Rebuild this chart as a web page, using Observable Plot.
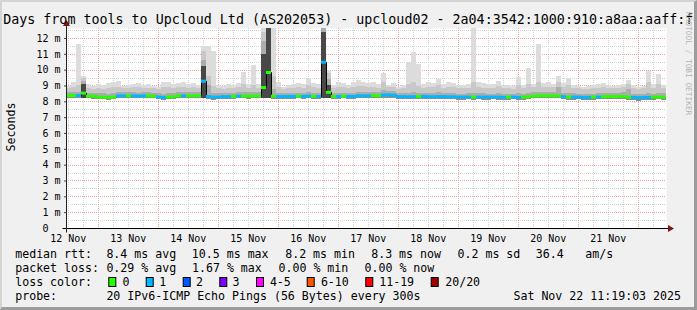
<!DOCTYPE html>
<html><head><meta charset="utf-8">
<script src="https://cdn.jsdelivr.net/npm/d3@7"></script>
<script src="https://cdn.jsdelivr.net/npm/@observablehq/plot@0.6"></script>
<style>
html,body{margin:0;padding:0;background:#fff;}
#wrap{position:relative;width:697px;height:310px;background:#f0f0f0;overflow:hidden;}
#wrap svg{position:absolute;left:0;top:0;}
#shade{position:absolute;left:0;top:0;width:697px;height:310px;box-sizing:border-box;border-top:2px solid #d4d4d4;border-left:2px solid #d4d4d4;border-right:3px solid #9c9c9c;border-bottom:3px solid #9c9c9c;pointer-events:none;}
</style></head>
<body><div id="wrap"></div>
<script>
// ---- data (ms), one value per 2-hour step, 120 steps over 10 days ----
const med = [
 8.40,8.40,8.40,8.55,8.36,8.36,8.30,8.30,8.28,8.30,
 8.38,8.38,8.38,8.38,8.36,8.38,8.38,8.36,8.30,8.28,
 8.30,8.32,8.38,8.38,8.38,8.38,8.40,9.30,8.33,8.30,
 8.30,8.33,8.33,8.34,8.36,8.36,8.36,8.36,8.38,8.90,
 9.85,8.36,8.34,8.34,8.34,8.34,8.36,8.34,8.36,8.34,
 8.34,10.50,8.60,8.34,8.34,8.36,8.34,8.34,8.38,8.38,
 8.38,8.40,8.38,8.44,8.44,8.42,8.33,8.33,8.32,8.33,
 8.33,8.34,8.33,8.32,8.33,8.33,8.32,8.32,8.30,8.30,
 8.30,8.30,8.30,8.30,8.30,8.30,8.30,8.28,8.30,8.30,
 8.28,8.30,8.32,8.36,8.38,8.38,8.38,8.38,8.38,8.32,
 8.30,8.30,8.30,8.28,8.28,8.30,8.30,8.33,8.34,8.33,
 8.34,8.34,8.30,8.28,8.26,8.28,8.28,8.30,8.30,8.30];
const loss = [
 0,0,1,0,0,0,0,0,0,0,
 1,1,0,1,1,1,0,0,1,1,
 0,0,0,1,0,0,0,1,1,1,
 1,1,1,0,1,0,0,0,0,0,
 0,0,1,1,1,1,0,1,1,0,
 1,1,0,0,1,0,1,1,1,1,
 1,0,0,1,1,1,1,1,1,1,
 0,1,1,1,1,1,1,1,1,1,
 1,0,1,1,1,1,1,1,0,1,
 1,0,0,0,0,0,0,0,0,1,
 0,1,1,1,1,0,1,0,0,0,
 0,0,0,1,1,1,1,0,0,0];
const lo = [
 8.22,8.22,8.20,8.22,8.18,8.16,8.12,8.12,8.10,8.12,
 8.18,8.20,8.20,8.18,8.18,8.20,8.18,8.18,8.12,8.10,
 8.12,8.14,8.20,8.18,8.20,8.20,8.22,8.20,8.14,8.10,
 8.12,8.14,8.14,8.16,8.18,8.18,8.16,8.18,8.20,8.20,
 8.22,8.16,8.16,8.14,8.16,8.16,8.18,8.16,8.18,8.16,
 8.16,8.20,8.18,8.16,8.16,8.18,8.16,8.14,8.20,8.20,
 8.18,8.22,8.20,8.24,8.24,8.22,8.14,8.14,8.12,8.14,
 8.14,8.16,8.14,8.12,8.14,8.14,8.12,8.12,8.10,8.10,
 8.12,8.10,8.12,8.10,8.10,8.12,8.10,8.08,8.10,8.12,
 8.08,8.10,8.14,8.18,8.20,8.18,8.20,8.20,8.18,8.12,
 8.10,8.10,8.12,8.08,8.08,8.10,8.12,8.14,8.16,8.14,
 8.16,8.14,8.10,8.08,8.04,8.08,8.10,8.10,8.12,8.10];
const dk = [
 8.56,8.58,8.60,9.30,8.54,8.52,8.50,8.50,8.48,8.52,
 8.56,8.56,8.58,8.56,8.54,8.56,8.56,8.54,8.50,8.48,
 8.50,8.52,8.56,8.56,8.58,8.56,8.60,10.60,9.00,8.52,
 8.50,8.52,8.52,8.54,8.56,8.58,8.56,8.58,8.58,11.80,
 12.70,8.80,8.54,8.52,8.52,8.54,8.54,8.52,8.56,8.52,
 8.54,12.70,9.40,8.52,8.54,8.54,8.52,8.54,8.58,8.60,
 8.56,8.60,8.56,8.70,8.64,8.62,8.52,8.52,8.54,8.56,
 8.52,8.54,8.52,8.50,8.58,8.52,8.50,8.52,8.48,8.48,
 8.50,8.54,8.50,8.50,8.48,8.48,8.52,8.46,8.48,8.48,
 8.52,8.48,8.54,8.56,8.58,8.58,8.56,8.58,8.90,8.52,
 8.54,8.50,8.48,8.46,8.46,8.48,8.50,8.52,8.54,8.52,
 8.54,8.56,8.80,8.46,8.44,8.46,8.52,8.48,8.50,8.50];
const md = [
 8.84,8.90,9.00,9.45,8.84,8.80,8.82,8.80,8.84,8.88,
 8.92,8.84,8.86,8.88,8.90,8.84,8.86,8.82,8.78,8.92,
 8.90,8.84,8.90,8.92,8.86,8.88,8.84,11.20,9.60,8.96,
 8.84,8.80,8.84,8.82,8.88,9.10,8.86,9.00,8.86,12.40,
 12.70,9.60,8.92,8.80,8.84,8.86,8.88,8.84,9.00,8.88,
 8.86,12.70,9.80,8.84,8.92,8.88,8.84,8.90,8.98,8.94,
 8.88,8.92,8.86,9.20,8.90,8.88,8.80,8.84,9.10,9.20,
 8.96,8.86,8.92,8.88,9.00,8.86,8.90,8.88,8.84,8.82,
 8.84,9.20,8.90,8.86,8.84,8.84,8.94,8.82,8.82,8.80,
 9.00,8.82,9.10,8.88,9.20,8.90,8.92,8.88,9.20,8.90,
 9.00,8.84,8.82,8.78,8.80,8.82,8.86,8.92,8.86,8.82,
 8.84,8.88,9.10,8.84,8.78,8.82,9.20,8.86,9.10,8.86];
const hi = [
 8.97,9.24,11.62,9.60,9.07,8.97,9.07,9.03,9.14,9.20,
 9.29,8.97,9.03,9.07,9.14,9.03,9.07,8.99,8.93,9.24,
 9.20,9.07,9.14,9.20,9.07,9.14,9.03,11.50,11.50,11.18,
 9.03,8.99,9.07,9.03,9.14,9.87,9.07,10.30,9.07,12.70,
 12.70,12.70,9.24,8.93,9.03,9.07,9.14,9.07,9.45,9.14,
 9.07,12.70,10.00,9.03,9.20,9.14,9.03,9.20,9.35,9.24,
 9.14,9.20,9.07,9.81,9.03,9.14,8.93,9.03,10.51,11.14,
 10.34,9.07,9.20,9.14,9.39,9.07,9.20,9.14,9.03,9.03,
 9.07,12.70,9.24,9.14,9.07,9.07,9.29,9.03,9.03,8.97,
 9.56,9.03,10.09,9.07,11.62,9.14,9.20,9.07,9.60,9.14,
 9.45,9.03,8.99,8.93,8.97,9.03,9.07,9.14,9.03,8.97,
 9.03,9.07,9.35,9.03,8.93,8.99,9.94,9.07,9.73,9.03];
// dark cores of the latency spikes
const coreStep = [3, 27, 39, 40, 51, 52];
const coreTop  = [9.10, 10.20, 11.00, 12.70, 12.40, 9.00];

// ---- legend / labels ----
const lossCodes  = [0, 1, 2, 3, 4, 5, 6, 7];
const lossLabels = ["0", "1", "2", "3", "4-5", "6-10", "11-19", "20/20"];
const lossColors = ["#26ff00", "#00b8ff", "#0059ff", "#7e00ff", "#ff00ff", "#ff5500", "#ff0000", "#a10000"];
const dayLabels = ["12 Nov","13 Nov","14 Nov","15 Nov","16 Nov","17 Nov","18 Nov","19 Nov","20 Nov","21 Nov"];
const dayNums   = [12,13,14,15,16,17,18,19,20,21];
const yMajor = [1,2,3,4,5,6,7,8,9,10,11,12];
const yMinor = [0.5,1.5,2.5,3.5,4.5,5.5,6.5,7.5,8.5,9.5,10.5,11.5,12.5];
const titleText = "Days from tools to Upcloud Ltd (AS202053) - upcloud02 - 2a04:3542:1000:910:a8aa:aaff:fe";
const statRows = [
  {y: 258.3, items: [["median rtt:", 15.2], ["8.4 ms avg", 106.4], ["10.5 ms max", 191.8], ["8.2 ms min", 285.2], ["8.3 ms now", 371.2], ["0.2 ms sd", 457.5], ["36.4", 535.8], ["am/s", 585.3]]},
  {y: 272.2, items: [["packet loss:", 15.2], ["0.29 % avg", 106.4], ["1.67 % max", 192.0], ["0.00 % min", 278.5], ["0.00 % now", 364.5]]},
  {y: 286.0, items: [["loss color:", 15.2]]},
  {y: 299.8, items: [["probe:", 15.2], ["20 IPv6-ICMP Echo Pings (56 Bytes) every 300s", 106.4]]}
];
const boxX   = [108.3, 145.7, 182.7, 219.3, 256.0, 306.7, 365.3, 430.7];
const boxLbX = [122.5, 159.2, 195.9, 232.5, 269.9, 320.9, 379.2, 445.2];
const stamp = "Sat Nov 22 11:19:03 2025";

// ---- build ----
const STEP = 2 * 3600e3;
const start = new Date(Date.UTC(2025, 10, 12, 11, 19, 3));
const end = new Date(Date.UTC(2025, 10, 22, 11, 19, 3));
const rows = med.map((m, i) => ({
  t0: new Date(+start + i * STEP), t1: new Date(+start + (i + 1) * STEP),
  med: m, loss: loss[i], lo: lo[i], dk: dk[i], md: md[i], hi: hi[i]
}));
const lineRows = rows.map(r => ({t: r.t0, med: r.med})).concat([{t: end, med: med[med.length - 1]}]);
const coreRows = coreStep.map((s, k) => ({t0: rows[s].t0, t1: rows[s].t1, lo: rows[s].lo, top: coreTop[k]}));
const noons = dayNums.map(d => new Date(Date.UTC(2025, 10, d, 12)));
const labelOf = new Map(noons.map((n, i) => [+n, dayLabels[i]]));
const midnights = d3.utcDay.range(new Date(Date.UTC(2025, 10, 12, 1)), end);
const sixHours = d3.utcHour.every(6).range(start, end).filter(d => d.getUTCHours() !== 0);
const crisp = {shapeRendering: "crispEdges", clip: true};

const chart = Plot.plot({
  width: 697, height: 310,
  marginLeft: 66, marginRight: 31, marginTop: 28, marginBottom: 82,
  style: {background: "transparent", fontFamily: "DejaVu Sans Mono", fontSize: "10px", color: "#000", overflow: "visible"},
  x: {type: "utc", domain: [start, end], axis: null},
  y: {domain: [0, 12.63], axis: null},
  color: {domain: lossCodes, range: lossColors},
  marks: [
    Plot.frame({fill: "#ffffff", stroke: null}),
    Plot.gridY(yMinor, {stroke: "#d2d2d2", strokeOpacity: 1, strokeDasharray: "1,1", shapeRendering: "crispEdges"}),
    Plot.gridX(sixHours, {stroke: "#d2d2d2", strokeOpacity: 1, strokeDasharray: "1,1", shapeRendering: "crispEdges"}),
    Plot.gridY(yMajor, {stroke: "#eaa6a6", strokeOpacity: 1, strokeDasharray: "1,1", shapeRendering: "crispEdges"}),
    Plot.gridX(midnights, {stroke: "#eaa6a6", strokeOpacity: 1, strokeDasharray: "1,1", shapeRendering: "crispEdges"}),
    Plot.rect(rows, {x1: "t0", x2: "t1", y1: "lo", y2: "hi", fill: "#dcdcdc", ...crisp}),
    Plot.rect(rows, {x1: "t0", x2: "t1", y1: "lo", y2: "md", fill: "#c8c8c8", ...crisp}),
    Plot.rect(rows, {x1: "t0", x2: "t1", y1: "lo", y2: "dk", fill: "#acacac", ...crisp}),
    Plot.rect(rows, {x1: "t0", x2: "t1", y1: "lo", y2: "med", fill: "#8c8c8c", ...crisp}),
    Plot.rect(coreRows, {x1: "t0", x2: "t1", y1: "lo", y2: "top", fill: "#484848", ...crisp}),
    Plot.line(lineRows, {x: "t", y: "med", curve: "step-after", stroke: "#000", strokeWidth: 1, clip: true}),
    Plot.ruleY(rows, {x1: "t0", x2: "t1", y: "med", stroke: "loss", strokeWidth: 3, clip: true}),
    Plot.axisY([0].concat(yMajor), {tickFormat: d => d === 0 ? "0\u00a0\u00a0" : d + " m", tickSize: 2, tickPadding: 4, stroke: "#444", fill: "#000"}),
    Plot.axisX(noons, {tickFormat: d => labelOf.get(+d), tickSize: 0, tickPadding: 6, fill: "#000"})
  ]
});

const wrap = document.getElementById("wrap");
wrap.appendChild(chart);
const shade = document.createElement("div"); shade.id = "shade"; wrap.appendChild(shade);

const svg = d3.select(chart);
const sx = chart.scale("x"), sy = chart.scale("y");
const x0 = Math.round(sx.apply(start)) + 0.5, y0 = Math.round(sy.apply(0)) + 0.5;
const xe = Math.round(sx.apply(end));
// axes + arrows
svg.append("line").attr("x1", x0 - 4).attr("x2", xe + 3).attr("y1", y0).attr("y2", y0).attr("stroke", "#000");
svg.append("line").attr("x1", x0).attr("x2", x0).attr("y1", y0 + 4).attr("y2", 24).attr("stroke", "#222");
svg.append("path").attr("d", `M${xe + 2},${y0 - 3.5}L${xe + 8},${y0}L${xe + 2},${y0 + 3.5}Z`).attr("fill", "#7f1414");
svg.append("path").attr("d", `M${x0 - 3.5},${26}L${x0},${20}L${x0 + 3.5},${26}Z`).attr("fill", "#7f1414");

const mono = "DejaVu Sans Mono";
const txt = (x, y, s, size, anchor) => svg.append("text").attr("x", x).attr("y", y)
  .attr("font-family", mono).attr("font-size", size).attr("fill", "#000")
  .attr("text-anchor", anchor || "start").style("white-space", "pre").text(s);
// title
txt(3.2, 24, titleText, 13.33);
// y label
svg.append("text").attr("transform", "translate(15,127) rotate(-90)").attr("text-anchor", "middle")
  .attr("font-family", mono).attr("font-size", 11.6).attr("fill", "#000").text("Seconds");
// watermark
svg.append("text").attr("transform", "translate(686,12) rotate(90)").attr("text-anchor", "start").attr("font-family", mono)
  .attr("font-size", 7.8).attr("fill", "#b4b4b4").text("RRDTOOL / TOBI OETIKER");
// legend rows
for (const row of statRows) for (const [s, x] of row.items) txt(x, row.y, s, 11.6);
lossCodes.forEach((c, i) => {
  svg.append("rect").attr("x", boxX[i] + 0.5).attr("y", 277.5).attr("width", 7).attr("height", 9)
    .attr("fill", lossColors[i]).attr("stroke", "#000").attr("stroke-width", 1);
  txt(boxLbX[i], 286, lossLabels[i], 11.6);
});
txt(681, 299.8, stamp, 11.6, "end");
</script></body></html>
